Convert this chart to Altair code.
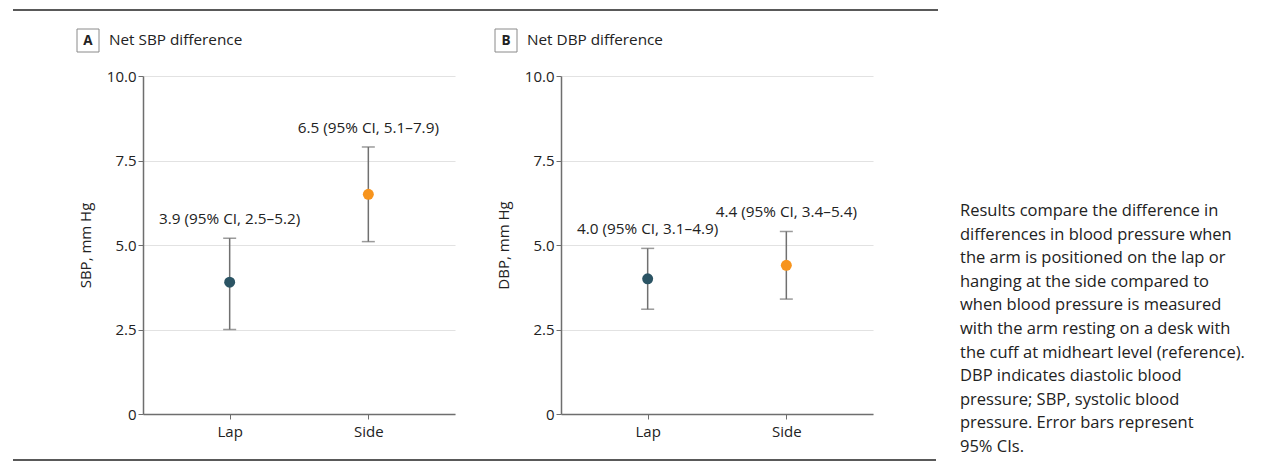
import altair as alt
import pandas as pd

categories = ["Lap", "Side"]
sbp_est = [3.9, 6.5]
sbp_lo = [2.5, 5.1]
sbp_hi = [5.2, 7.9]
dbp_est = [4.0, 4.4]
dbp_lo = [3.1, 3.4]
dbp_hi = [4.9, 5.4]
point_colors = ["#2b5464", "#f7941d"]
y_ticks = [0, 2.5, 5.0, 7.5, 10.0]
caption_lines = [
    "Results compare the difference in",
    "differences in blood pressure when",
    "the arm is positioned on the lap or",
    "hanging at the side compared to",
    "when blood pressure is measured",
    "with the arm resting on a desk with",
    "the cuff at midheart level (reference).",
    "DBP indicates diastolic blood",
    "pressure; SBP, systolic blood",
    "pressure. Error bars represent",
    "95% CIs.",
]

FONT = "Open Sans"
TXT = "#222222"
AXC = "#6e6e6e"
W, H = 312, 338


def make_df(est, lo, hi):
    return pd.DataFrame({
        "position": categories,
        "est": est,
        "lo": lo,
        "hi": hi,
        "label": [f"{e:.1f} (95% CI, {l:.1f}–{h:.1f})" for e, l, h in zip(est, lo, hi)],
    })


def panel(df, letter, title, ytitle, with_rules=False):
    xenc = alt.X(
        "position:N",
        scale=alt.Scale(type="point", padding=0.625, domain=categories),
        axis=alt.Axis(title=None, labelAngle=0, labelFont=FONT, labelFontSize=15,
                      labelColor=TXT, domainColor=AXC, domainWidth=1.5, tickColor=AXC,
                      tickSize=5, labelPadding=5, grid=False),
    )
    yscale = alt.Scale(domain=[0, 10], nice=False)
    base = alt.Chart(df)
    grid_axis = alt.Axis(
        values=y_ticks, title=ytitle, titleFont=FONT, titleFontSize=15,
        titleFontWeight="normal", titleColor=TXT, titlePadding=13,
        labelFont=FONT, labelFontSize=15, labelColor=TXT, labelPadding=2,
        labelExpr="datum.value == 0 ? '0' : format(datum.value, '.1f')",
        domainColor=AXC, domainWidth=1.5, tickColor=AXC, tickSize=5,
        grid=True, gridColor="#e2e2e2", gridWidth=1.2,
    )
    bars = base.mark_rule(color="#707070", strokeWidth=1.5).encode(
        x=xenc, y=alt.Y("lo:Q", scale=yscale, axis=grid_axis), y2="hi:Q")
    cap_hi = base.mark_tick(color="#707070", thickness=1.5, size=13, orient="horizontal").encode(
        x=alt.X("position:N"), y=alt.Y("hi:Q"))
    cap_lo = base.mark_tick(color="#707070", thickness=1.5, size=13, orient="horizontal").encode(
        x=alt.X("position:N"), y=alt.Y("lo:Q"))
    pts = base.mark_circle(size=120, opacity=1).encode(
        x=alt.X("position:N"), y=alt.Y("est:Q"),
        color=alt.Color("position:N", scale=alt.Scale(domain=categories, range=point_colors), legend=None))
    labels = base.mark_text(font=FONT, fontSize=15.3, color=TXT, baseline="middle", dy=-19).encode(
        x=alt.X("position:N"), y=alt.Y("hi:Q"), text="label:N")

    hdr = alt.Chart(pd.DataFrame({"letter": [letter], "title": [title]}))
    box = hdr.mark_rect(fill="white", stroke="#8a8a8a", strokeWidth=1).encode(
        x=alt.value(-66), x2=alt.value(-44), y=alt.value(-47), y2=alt.value(-24))
    letter_t = hdr.mark_text(font=FONT, fontSize=13.5, fontWeight="bold", color=TXT,
                             baseline="middle", align="center").encode(
        x=alt.value(-55), y=alt.value(-35), text="letter:N")
    title_t = hdr.mark_text(font=FONT, fontSize=15.3, color=TXT, baseline="middle", align="left").encode(
        x=alt.value(-34), y=alt.value(-36), text="title:N")

    layers = [bars, cap_hi, cap_lo, pts, labels, box, letter_t, title_t]
    if with_rules:
        top = hdr.mark_rule(color="#222222", strokeWidth=1.5).encode(
            x=alt.value(-130), x2=alt.value(795), y=alt.value(-66))
        bottom = hdr.mark_rule(color="#222222", strokeWidth=1.5).encode(
            x=alt.value(-130), x2=alt.value(793), y=alt.value(384))
        layers += [top, bottom]
    return alt.layer(*layers).properties(width=W, height=H)


pa = panel(make_df(sbp_est, sbp_lo, sbp_hi), "A", "Net SBP difference", "SBP, mm Hg", with_rules=True)
pb = panel(make_df(dbp_est, dbp_lo, dbp_hi), "B", "Net DBP difference", "DBP, mm Hg")

cap = alt.Chart(pd.DataFrame({"k": [0]})).mark_text(
    font=FONT, fontSize=16.5, color=TXT, align="left", baseline="alphabetic", lineHeight=23.6,
).encode(x=alt.value(-19), y=alt.value(140), text=alt.value(caption_lines)).properties(width=240, height=H)

chart = alt.hconcat(pa, pb, cap, spacing=106, bounds="flush").properties(
    padding={"left": 4, "top": 1, "right": 2, "bottom": 0}
).configure_view(stroke=None)

chart.save("out.html", embed_options={"renderer": "svg", "actions": False})
